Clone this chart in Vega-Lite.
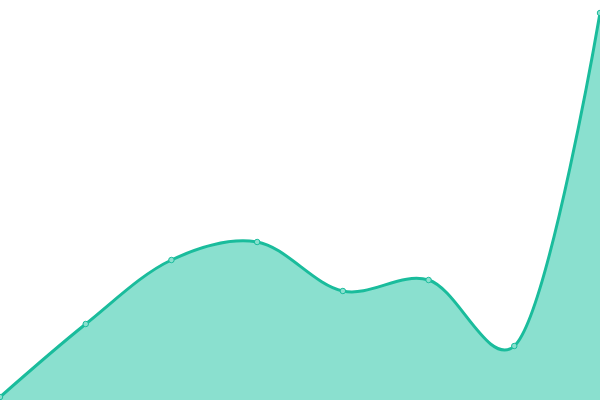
{
  "$schema": "https://vega.github.io/schema/vega-lite/v6.json",
  "width": 600,
  "height": 400,
  "padding": 0,
  "autosize": {"type": "none"},
  "background": "white",
  "config": {"view": {"stroke": null}},
  "data": {
    "values": [
      {"i": 0, "v": 3},
      {"i": 1, "v": 76},
      {"i": 2, "v": 140},
      {"i": 3, "v": 158},
      {"i": 4, "v": 109},
      {"i": 5, "v": 120},
      {"i": 6, "v": 54},
      {"i": 7, "v": 387}
    ]
  },
  "encoding": {
    "x": {"field": "i", "type": "quantitative", "axis": null, "scale": {"domain": [0, 7], "nice": false, "zero": false}},
    "y": {"field": "v", "type": "quantitative", "axis": null, "scale": {"domain": [0, 400], "nice": false}}
  },
  "layer": [
    {"mark": {"type": "area", "interpolate": "catmull-rom", "tension": 0.25, "color": "#8ae0cf"}},
    {"mark": {"type": "line", "interpolate": "catmull-rom", "tension": 0.25, "color": "#1abc9c", "strokeWidth": 3}},
    {"mark": {"type": "point", "filled": true, "fill": "#8ae0cf", "stroke": "#1abc9c", "strokeWidth": 1, "size": 30, "opacity": 1}}
  ]
}
